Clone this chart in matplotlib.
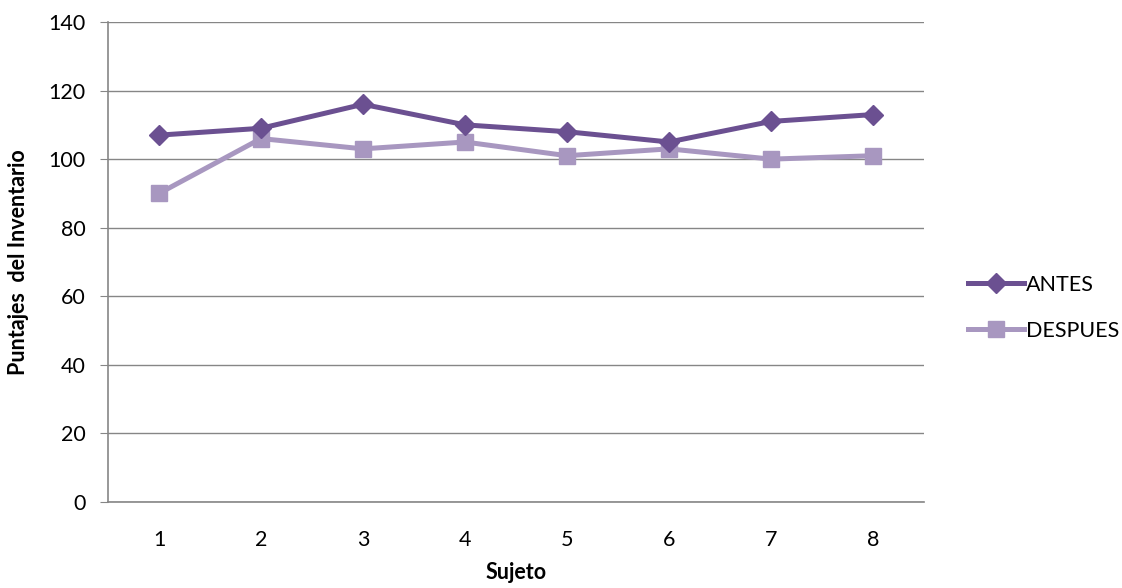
import matplotlib.pyplot as plt

sujetos = ["1", "2", "3", "4", "5", "6", "7", "8"]
antes = [107, 109, 116, 110, 108, 105, 111, 113]
despues = [90, 106, 103, 105, 101, 103, 100, 101]

plt.rcParams['font.family'] = ['Lato', 'DejaVu Sans']

fig = plt.figure(figsize=(11.22, 5.88), dpi=100)
ax = fig.add_axes([108 / 1122, 86 / 588, 816 / 1122, 480 / 588])

x = range(1, len(sujetos) + 1)
ax.plot(x, antes, color="#6b5091", lw=3.6, marker="D", ms=10, label="ANTES", zorder=4)
ax.plot(x, despues, color="#a897c0", lw=3.6, marker="s", ms=12, label="DESPUES", zorder=3)

ax.set_xlim(0.5, 8.5)
ax.set_ylim(0, 140)
ax.set_yticks(range(0, 141, 20))
ax.set_xticks(list(x))
ax.set_xticklabels(sujetos)
ax.tick_params(axis="x", length=0, labelsize=15.5, pad=20)
ax.tick_params(axis="y", length=6, color="#868686", labelsize=15.5, pad=10)
ax.grid(axis="y", color="#868686", lw=1)
ax.set_axisbelow(True)
for s in ["top", "right"]:
    ax.spines[s].set_visible(False)
for s in ["left", "bottom"]:
    ax.spines[s].set_color("#868686")
    ax.spines[s].set_linewidth(1.2)

ax.set_xlabel("Sujeto", fontsize=15.5, fontweight="bold", labelpad=9)
ax.set_ylabel("Puntajes  del Inventario", fontsize=15.5, fontweight="bold", labelpad=14)

ax.legend(loc="center left", bbox_to_anchor=(1.03, 0.405), frameon=False,
          fontsize=15.5, handlelength=2.6, handletextpad=0.1, labelspacing=1.2)

fig.savefig("out.png", dpi=100)
